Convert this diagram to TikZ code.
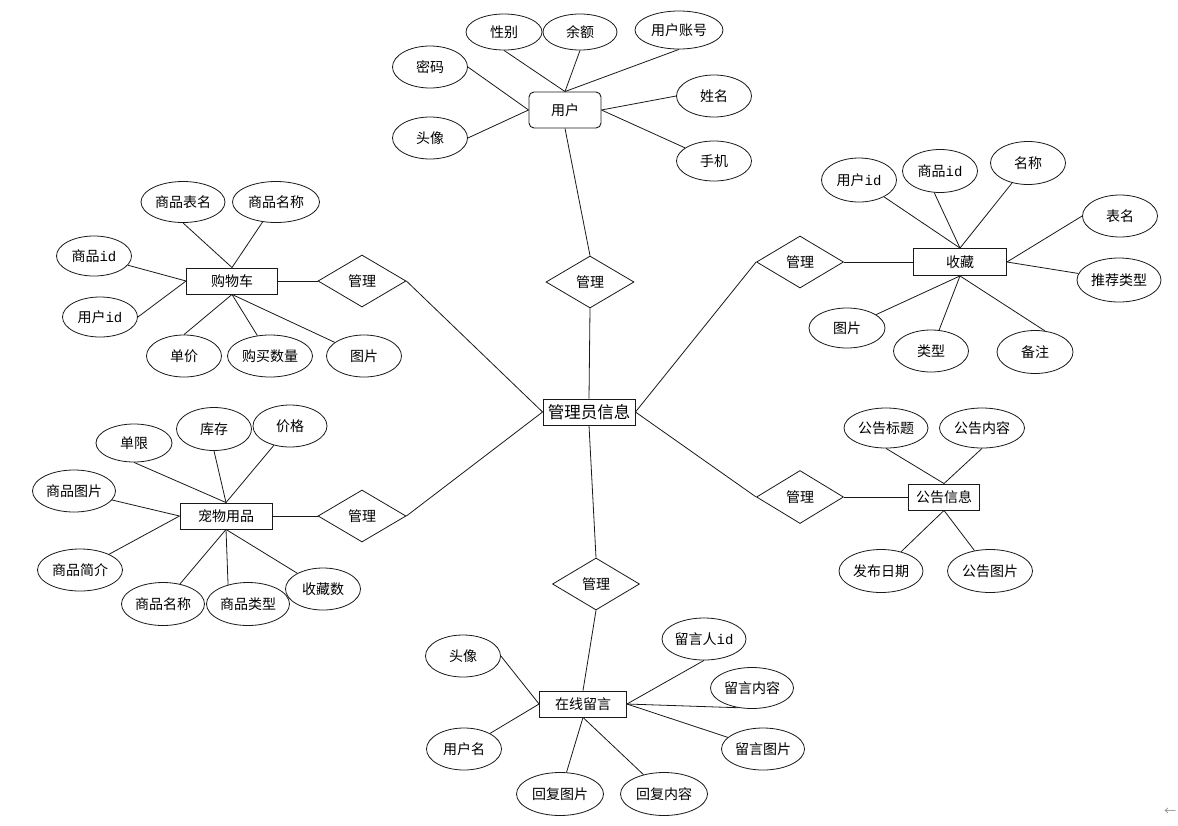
\documentclass[tikz,border=0pt]{standalone}
\usepackage{fontspec}
\setmainfont{Noto Sans CJK SC}
\newfontfamily\idfont{Liberation Mono}
\usetikzlibrary{shapes.geometric}

\begin{document}
\begin{tikzpicture}[
  x=1pt,y=-1pt,
  attr/.style={ellipse,draw=black!90,line width=.8pt,minimum width=75pt,minimum height=42pt,
    inner sep=0pt,font=\fontsize{14}{16}\selectfont},
  wattr/.style={attr,minimum width=85pt},
  ent/.style={rectangle,draw=black!90,line width=.9pt,minimum width=91pt,minimum height=26pt,
    inner sep=2pt,font=\fontsize{14}{16}\selectfont},
  rel/.style={diamond,draw=black!90,line width=.8pt,minimum width=88pt,minimum height=52pt,
    inner sep=0pt,font=\fontsize{14}{16}\selectfont},
  link/.style={draw=black!90,line width=.8pt}
]
  \useasboundingbox (0,0) rectangle (1178,825);

  \node[ent,font=\fontsize{16.5}{18}\selectfont,minimum width=92pt] (admin) at (589,412) {管理员信息};

  \node[ent,rounded corners=5pt,minimum width=72pt,minimum height=36pt] (user) at (565,110) {用户};
  \node[rel] (m1) at (590,282) {管理};
  \node[attr,minimum width=76pt,minimum height=36pt] (sex) at (504,32) {性别};
  \node[attr,minimum width=74pt,minimum height=36pt] (balance) at (580,32) {余额};
  \node[wattr,minimum width=88pt,minimum height=38pt] (account) at (679,30) {用户账号};
  \node[attr] (pwd) at (430,67) {密码};
  \node[attr] (avatar) at (430,138) {头像};
  \node[attr] (realname) at (714,96) {姓名};
  \node[attr,minimum height=40pt] (phone) at (714,161) {手机};

  \draw[link] (sex.south) -- (user.north);
  \draw[link] (balance.south) -- (user.north);
  \draw[link] (account.south) -- (user.north);
  \draw[link] (pwd.east) -- (user.west);
  \draw[link] (avatar.east) -- (user.west);
  \draw[link] (user.east) -- (realname.west);
  \draw[link] (user.east) -- (phone);
  \draw[link] (user.south) -- (m1.north);
  \draw[link] (m1.south) -- (admin.north);

  \node[ent] (cart) at (232,281) {购物车};
  \node[rel] (m2) at (362,281) {管理};
  \node[wattr,minimum width=84pt,minimum height=41pt] (ctable) at (183,202) {商品表名};
  \node[wattr,minimum width=87pt,minimum height=41pt] (cname) at (276,202) {商品名称};
  \node[attr,minimum height=40pt] (cgoodsid) at (94,256) {商品{\idfont id}};
  \node[attr,minimum height=40pt] (cuserid) at (100,317) {用户{\idfont id}};
  \node[attr] (cprice) at (184,356) {单价};
  \node[wattr] (cnum) at (270,356) {购买数量};
  \node[attr] (cimg) at (364,356) {图片};

  \draw[link] (ctable.south) -- (cart.north);
  \draw[link] (cname) -- (cart.north);
  \draw[link] (cgoodsid) -- (cart.west);
  \draw[link] (cuserid.east) -- (cart.west);
  \draw[link] (cart.south) -- (cprice.north);
  \draw[link] (cart.south) -- (cnum);
  \draw[link] (cart.south) -- (cimg);
  \draw[link] (cart.east) -- (m2.west);
  \draw[link] (m2.east) -- (admin.west);

  \node[ent,minimum width=92pt] (pet) at (226,516) {宠物用品};
  \node[rel] (m3) at (362,516) {管理};
  \node[attr,minimum width=76pt,minimum height=38pt] (plimit) at (134,443) {单限};
  \node[attr,minimum height=43pt] (pstock) at (214,429) {库存};
  \node[attr,minimum width=74pt] (pprice) at (290,426) {价格};
  \node[wattr,minimum width=83pt] (ppic) at (74,491) {商品图片};
  \node[wattr] (pintro) at (80,570) {商品简介};
  \node[wattr,minimum width=83pt,minimum height=43pt] (pname) at (163,604) {商品名称};
  \node[wattr,minimum width=83pt,minimum height=43pt] (ptype) at (248,604) {商品类型};
  \node[attr] (pfav) at (323,589) {收藏数};

  \draw[link] (plimit.south) -- (pet.north);
  \draw[link] (pstock.south) -- (pet.north);
  \draw[link] (pprice) -- (pet.north);
  \draw[link] (ppic) -- (pet.west);
  \draw[link] (pintro) -- (pet.west);
  \draw[link] (pet.south) -- (pname);
  \draw[link] (pet.south) -- (ptype.136);
  \draw[link] (pet.south) -- (pfav);
  \draw[link] (pet.east) -- (m3.west);
  \draw[link] (m3.east) -- (admin.west);

  \node[ent,minimum width=93pt,minimum height=27pt] (fav) at (960,262) {收藏};
  \node[rel,minimum width=87pt] (m4) at (800,262) {管理};
  \node[attr,minimum height=44pt] (fuserid) at (859,180) {用户{\idfont id}};
  \node[attr,minimum height=43pt] (fgoodsid) at (940,171) {商品{\idfont id}};
  \node[attr,minimum height=43pt] (fname) at (1028,163) {名称};
  \node[attr] (ftable) at (1120,216) {表名};
  \node[wattr,minimum width=84pt,minimum height=44pt] (frec) at (1119,280) {推荐类型};
  \node[attr,minimum width=76pt,minimum height=40pt] (fimg) at (847,328) {图片};
  \node[attr] (ftype) at (931,351) {类型};
  \node[attr,minimum width=76pt,minimum height=43pt] (fnote) at (1035,352) {备注};

  \draw[link] (fuserid) -- (fav.north);
  \draw[link] (fgoodsid.255) -- (fav.north);
  \draw[link] (fname) -- (fav.north);
  \draw[link] (fav.east) -- (ftable.west);
  \draw[link] (fav.east) -- (frec);
  \draw[link] (fav.south) -- (fimg);
  \draw[link] (fav.south) -- (ftype);
  \draw[link] (fav.south) -- (fnote.65);
  \draw[link] (m4.east) -- (fav.west);
  \draw[link] (admin.east) -- (m4.west);

  \node[ent,minimum width=71pt] (notice) at (944,497) {公告信息};
  \node[rel,minimum width=87pt,minimum height=53pt] (m5) at (800,497) {管理};
  \node[wattr,minimum width=84pt,minimum height=40pt] (ntitle) at (886,428) {公告标题};
  \node[wattr,minimum height=40pt] (ncontent) at (982,428) {公告内容};
  \node[wattr,minimum width=84pt,minimum height=43pt] (ndate) at (881,571) {发布日期};
  \node[wattr,minimum height=43pt] (nimg) at (990,571) {公告图片};

  \draw[link] (ntitle.south) -- (notice.north);
  \draw[link] (ncontent.south) -- (notice.north);
  \draw[link] (notice.south) -- (ndate);
  \draw[link] (notice.south) -- (nimg);
  \draw[link] (m5.east) -- (notice.west);
  \draw[link] (admin.east) -- (m5.west);

  \node[ent,minimum width=87pt] (msg) at (583,704) {在线留言};
  \node[rel,minimum width=87pt] (m6) at (596,584) {管理};
  \node[attr] (mavatar) at (463,656) {头像};
  \node[attr] (muser) at (464,749) {用户名};
  \node[wattr,minimum width=84pt] (mpid) at (704,639) {留言人{\idfont id}};
  \node[wattr,minimum width=83pt,minimum height=41pt] (mcontent) at (752,688) {留言内容};
  \node[wattr,minimum width=83pt] (mimg) at (763,749) {留言图片};
  \node[wattr,minimum width=87pt,minimum height=43pt] (rimg) at (560,794) {回复图片};
  \node[wattr,minimum width=87pt,minimum height=43pt] (rcontent) at (664,794) {回复内容};

  \draw[link] (admin.south) -- (m6.north);
  \draw[link] (m6.south) -- (msg.north);
  \draw[link] (mavatar.east) -- (msg.west);
  \draw[link] (muser) -- (msg.west);
  \draw[link] (msg.east) -- (mpid.south);
  \draw[link] (msg.east) -- (mcontent.235);
  \draw[link] (msg.east) -- (mimg);
  \draw[link] (msg.south) -- (rimg);
  \draw[link] (msg.south) -- (rcontent);

  \node[text=black!45,font=\fontsize{12}{14}\selectfont] (back) at (1170,812) {←};
\end{tikzpicture}
\end{document}
